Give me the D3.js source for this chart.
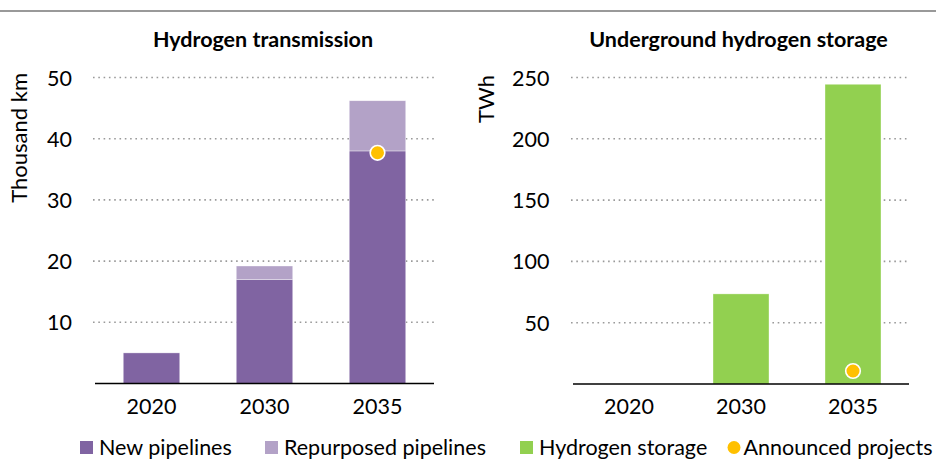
<!DOCTYPE html>
<html>
<head>
<meta charset="utf-8">
<script src="https://cdn.jsdelivr.net/npm/d3@7/dist/d3.min.js"></script>
<style>
  html, body { margin: 0; padding: 0; background: #fff; }
  svg { display: block; font-family: Lato, "Open Sans", sans-serif; }
</style>
</head>
<body>
<svg id="chart" width="936" height="460"></svg>
<script>
// Hydrogen infrastructure: transmission pipelines and underground storage
const years = ["2020", "2030", "2035"];

// Hydrogen transmission (thousand km)
const newPipelines = [5, 17, 38];
const repurposedPipelines = [0, 2.2, 8.2];
const announcedTransmission = [null, null, 37.7];
const transmissionTicks = [10, 20, 30, 40, 50];

// Underground hydrogen storage (TWh)
const hydrogenStorage = [0, 73.5, 244.5];
const announcedStorage = [null, null, 10.6];
const storageTicks = [50, 100, 150, 200, 250];

const legendItems = ["New pipelines", "Repurposed pipelines", "Hydrogen storage", "Announced projects"];

const COLORS = {
  newPipe: "#8064A2",
  repurposed: "#B3A2C7",
  storage: "#92D050",
  announced: "#FFC000",
  grid: "#9a9a9a",
  text: "#000"
};

const FONT = 21.5;

const svg = d3.select("#chart");

// top rule
svg.append("line")
  .attr("x1", 0).attr("x2", 936).attr("y1", 11).attr("y2", 11)
  .attr("stroke", "#999").attr("stroke-width", 2);

function panel(opts) {
  const g = svg.append("g");
  const x = d3.scaleBand().domain(years).range(opts.xRange).paddingInner(0.5).paddingOuter(0.25);
  const y = d3.scaleLinear().domain(opts.yDomain).range(opts.yRange);

  // title
  g.append("text")
    .attr("x", opts.titleX).attr("y", 47)
    .attr("text-anchor", "middle")
    .attr("font-weight", "bold").attr("font-size", 21.5)
    .attr("fill", COLORS.text)
    .text(opts.title);

  // dotted gridlines
  g.append("g").selectAll("line").data(opts.ticks).join("line")
    .attr("x1", opts.xRange[0] - 2).attr("x2", opts.xRange[1] + 1)
    .attr("y1", d => y(d)).attr("y2", d => y(d))
    .attr("stroke", COLORS.grid).attr("stroke-width", 1.6)
    .attr("stroke-dasharray", "1.6,3.7");

  // y axis labels
  const yAxis = d3.axisLeft(y).tickValues(opts.ticks).tickSize(0).tickPadding(0);
  const ya = g.append("g").attr("transform", `translate(${opts.tickX},0)`).call(yAxis);
  ya.select(".domain").remove();
  ya.selectAll("text").attr("font-size", FONT).attr("fill", COLORS.text)
    .attr("font-family", "Lato, 'Open Sans', sans-serif").attr("dy", "0.35em");

  // axis title
  g.append("text")
    .attr("transform", `translate(${opts.axisTitleX},${opts.axisTitleY}) rotate(-90)`)
    .attr("text-anchor", "end")
    .attr("font-size", 22).attr("fill", COLORS.text)
    .text(opts.axisTitle);

  // bars (stacked)
  opts.series.forEach(s => {
    g.append("g").selectAll("rect").data(years).join("rect")
      .attr("x", d => x(d))
      .attr("width", x.bandwidth())
      .attr("y", (d, i) => y(s.base(i) + s.values[i]))
      .attr("height", (d, i) => y(s.base(i)) - y(s.base(i) + s.values[i]))
      .attr("fill", s.color)
      .attr("stroke", "#fff").attr("stroke-width", 0.6)
      .attr("stroke-opacity", (d, i) => s.values[i] > 0 ? 0.6 : 0);
  });

  // baseline
  g.append("line")
    .attr("x1", opts.xRange[0]).attr("x2", opts.xRange[1])
    .attr("y1", y(0)).attr("y2", y(0))
    .attr("stroke", "#000").attr("stroke-width", 1.5);

  // x axis labels
  const xAxis = d3.axisBottom(x).tickSize(0).tickPadding(0);
  const xa = g.append("g").attr("transform", `translate(0,${y(0)})`).call(xAxis);
  xa.select(".domain").remove();
  xa.selectAll("text").attr("font-size", FONT).attr("fill", COLORS.text)
    .attr("font-family", "Lato, 'Open Sans', sans-serif")
    .attr("dy", null).attr("y", 30);

  // announced projects markers
  const pts = years.map((d, i) => ({ year: d, v: opts.announced[i] })).filter(p => p.v != null);
  g.append("g").selectAll("circle").data(pts).join("circle")
    .attr("cx", p => x(p.year) + x.bandwidth() / 2)
    .attr("cy", p => y(p.v))
    .attr("r", 7.3)
    .attr("fill", COLORS.announced)
    .attr("stroke", "#fff").attr("stroke-width", 1.6);
}

panel({
  title: "Hydrogen transmission", titleX: 263,
  xRange: [95, 434], yDomain: [0, 50], yRange: [383.5, 77.5],
  ticks: transmissionTicks, tickX: 72,
  axisTitle: "Thousand km", axisTitleX: 27, axisTitleY: 73,
  series: [
    { values: newPipelines, color: COLORS.newPipe, base: () => 0 },
    { values: repurposedPipelines, color: COLORS.repurposed, base: i => newPipelines[i] }
  ],
  announced: announcedTransmission
});

panel({
  title: "Underground hydrogen storage", titleX: 738.5,
  xRange: [573, 909], yDomain: [0, 250], yRange: [384, 77.5],
  ticks: storageTicks, tickX: 549.5,
  axisTitle: "TWh", axisTitleX: 494, axisTitleY: 75,
  series: [
    { values: hydrogenStorage, color: COLORS.storage, base: () => 0 }
  ],
  announced: announcedStorage
});

// legend
const legendX = [80, 265, 520, 734];
const legendColors = [COLORS.newPipe, COLORS.repurposed, COLORS.storage, COLORS.announced];
const legendBaseline = 454.5;
const lg = svg.append("g");
legendItems.forEach((label, i) => {
  if (i < 3) {
    lg.append("rect").attr("x", legendX[i]).attr("y", legendBaseline - 13.5)
      .attr("width", 13).attr("height", 13).attr("fill", legendColors[i]);
    lg.append("text").attr("x", legendX[i] + 19).attr("y", legendBaseline)
      .attr("font-size", FONT).attr("fill", COLORS.text).text(label);
  } else {
    lg.append("circle").attr("cx", legendX[i]).attr("cy", legendBaseline - 7).attr("r", 6.5)
      .attr("fill", legendColors[i]);
    lg.append("text").attr("x", legendX[i] + 9.5).attr("y", legendBaseline)
      .attr("font-size", FONT).attr("fill", COLORS.text).text(label);
  }
});
</script>
</body>
</html>
